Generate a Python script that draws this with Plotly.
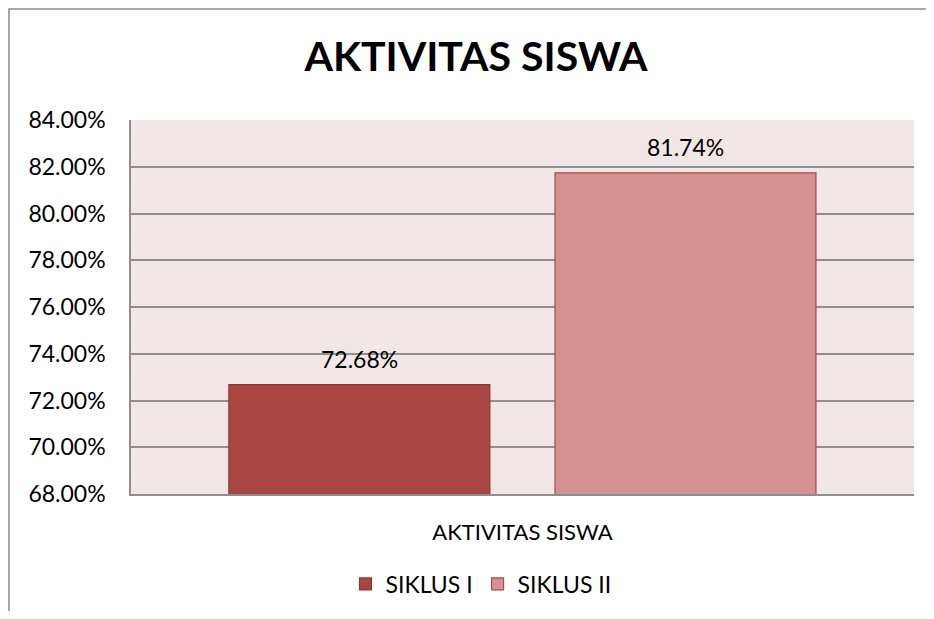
import plotly.graph_objects as go

categories = ["AKTIVITAS SISWA"]
series_names = ["SIKLUS I", "SIKLUS II"]
siklus_1 = [72.68]
siklus_2 = [81.74]
y_ticks = [68, 70, 72, 74, 76, 78, 80, 82, 84]
y_tick_labels = [f"{v:.2f}%" for v in y_ticks]

FONT = "Lato"
fills = ["#A94543", "#D39190"]
edges = ["#8C3634", "#A84A4A"]
offsets = [-0.375, 0.0415]
bar_width = 0.3333
values = [siklus_1, siklus_2]

# page body has an 8px margin; size the figure to fit the window exactly
W, H = 918, 603
L, R, T, B = 123, 12, 112, 117
PW, PH = W - L - R, H - T - B

fig = go.Figure()
annotations = []
for name, vals, fc, ec, off in zip(series_names, values, fills, edges, offsets):
    fig.add_trace(go.Bar(
        x=categories, y=vals, name=name,
        width=bar_width, offset=off,
        marker=dict(color=fc, line=dict(color=ec, width=1.2)),
        cliponaxis=False,
    ))
    for v in vals:
        annotations.append(dict(
            x=off + bar_width / 2, y=v, xref="x", yref="y",
            text=f"{v:.2f}%", showarrow=False, yshift=26, yanchor="middle",
            font=dict(family=FONT, size=23, color="#000000")))

fig.update_layout(
    width=W, height=H,
    margin=dict(l=L, r=R, t=T, b=B, autoexpand=False),
    paper_bgcolor="#FFFFFF", plot_bgcolor="#F2E7E7",
    barmode="overlay",
    title=dict(text="<b>AKTIVITAS SISWA</b>", x=(476 - 8) / W, xanchor="center",
               y=1 - (57 - 8) / H, yanchor="middle",
               font=dict(family=FONT, size=41, color="#000000")),
    legend=dict(orientation="h", x=(473 - L) / PW, xanchor="center",
                yref="container", y=(H - (584 - 8)) / H, yanchor="middle",
                font=dict(family=FONT, size=23, color="#000000"),
                itemwidth=30, traceorder="normal"),
    font=dict(family=FONT),
    annotations=annotations,
    shapes=[dict(type="rect", xref="paper", yref="paper",
                 x0=-(L - 1) / PW, x1=1.2, y0=-0.5, y1=1 + (T - 1) / PH,
                 line=dict(color="#8C8C8C", width=1.5), fillcolor="rgba(0,0,0,0)",
                 layer="below")],
)
fig.update_yaxes(range=[68, 84], tickvals=y_ticks, ticktext=y_tick_labels,
                 showgrid=True, gridcolor="#8E8E8E", gridwidth=1.5,
                 showline=True, linecolor="#8E8E8E", linewidth=1.5,
                 tickfont=dict(family=FONT, size=23, color="#000000"),
                 ticks="", zeroline=False, ticklabelstandoff=19, automargin=False)
fig.update_xaxes(range=[-0.5, 0.5], showline=True, linecolor="#8E8E8E", linewidth=2,
                 tickfont=dict(family=FONT, size=22, color="#000000"),
                 ticks="", ticklabelstandoff=18, automargin=False)

fig.write_html("out.html")
